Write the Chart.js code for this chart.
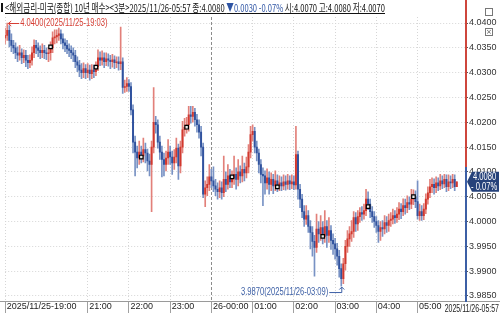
<!DOCTYPE html>
<html><head><meta charset="utf-8">
<script src="https://cdn.jsdelivr.net/npm/chart.js@4.4.0/dist/chart.umd.min.js"></script>
<style>
html,body{margin:0;padding:0;background:#fff;}
#wrap{position:relative;width:500px;height:314px;overflow:hidden;background:#fff;}
#c{position:absolute;left:0;top:0;}
#hdr{position:absolute;left:5px;top:0px;white-space:nowrap;font-family:"Noto Sans CJK KR",sans-serif;font-size:11px;line-height:15px;color:#111;text-decoration:underline;transform-origin:0 0;}
#hdr .dn{color:#2f55a4;}
#icon{position:absolute;left:1px;top:3px;width:2px;height:9px;background:#111;}
#btns{position:absolute;left:485px;top:2px;}
#btns div{display:inline-block;width:6px;height:6px;border:1px solid #777;margin-right:1px;font-size:7px;line-height:6px;text-align:center;color:#555;font-family:"DejaVu Sans",sans-serif;}
</style></head>
<body><div id="wrap"><canvas id="c" width="500" height="314"></canvas>
<div id="icon"></div>
<div id="hdr"><span>&lt;해외금리-미국(종합) 10년 매수&gt;&lt;3분&gt;2025/11/26-05:57 종:4.0080 </span><span class="dn">▼0.0030 -0.07%</span><span> 시:4.0070 고:4.0080 저:4.0070</span></div>
<div id="btns"><div></div><div>×</div></div>
</div>
<script>
// ---- data (3-minute bars, 2025/11/25 19:00 .. 2025/11/26 05:57) ----
const startHour = 19;
const barMinutes = 3;
const opens = [
4.0370,4.0375,4.0385,4.0365,4.0355,4.0350,4.0340,4.0335,4.0340,4.0330,
4.0335,4.0325,4.0320,4.0325,4.0340,4.0355,4.0350,4.0345,4.0340,4.0345,
4.0340,4.0338,4.0340,4.0350,4.0370,4.0372,4.0375,4.0378,4.0368,4.0360,
4.0355,4.0348,4.0345,4.0340,4.0335,4.0322,4.0315,4.0305,4.0300,4.0308,
4.0300,4.0305,4.0298,4.0305,4.0302,4.0312,4.0330,4.0325,4.0330,4.0322,
4.0328,4.0325,4.0322,4.0326,4.0320,4.0322,4.0318,4.0322,4.0270,4.0272,
4.0278,4.0272,4.0225,4.0160,4.0140,4.0128,4.0140,4.0132,4.0145,4.0138,
4.0122,4.0115,4.0150,4.0200,4.0195,4.0160,4.0140,4.0125,4.0115,4.0128,
4.0140,4.0130,4.0118,4.0130,4.0148,4.0112,4.0150,4.0185,4.0190,4.0195,
4.0215,4.0212,4.0220,4.0205,4.0195,4.0180,4.0150,4.0055,4.0068,4.0075,
4.0090,4.0082,4.0072,4.0065,4.0060,4.0068,4.0058,4.0085,4.0075,4.0092,
4.0080,4.0088,4.0095,4.0085,4.0100,4.0092,4.0105,4.0098,4.0110,4.0140,
4.0175,4.0182,4.0150,4.0138,4.0115,4.0095,4.0092,4.0078,4.0088,4.0075,
4.0085,4.0072,4.0082,4.0072,4.0078,4.0072,4.0080,4.0075,4.0082,4.0076,
4.0080,4.0074,4.0135,4.0065,4.0045,4.0020,4.0005,4.0012,3.9990,3.9978,
3.9960,3.9948,3.9985,3.9975,3.9988,3.9970,3.9990,3.9972,3.9982,3.9962,
3.9955,3.9945,3.9930,3.9905,3.9885,3.9915,3.9950,3.9965,3.9975,3.9980,
4.0008,3.9995,4.0010,4.0018,4.0015,4.0022,4.0045,4.0035,4.0020,4.0010,
4.0000,3.9992,3.9980,3.9988,3.9985,3.9998,3.9992,4.0002,4.0005,4.0012,
4.0008,4.0015,4.0025,4.0020,4.0032,4.0028,4.0038,4.0035,4.0045,4.0050,
4.0040,4.0012,4.0020,4.0012,4.0025,4.0045,4.0058,4.0070,4.0075,4.0068,
4.0078,4.0072,4.0082,4.0076,4.0085,4.0070,4.0080,4.0078,4.0085,4.0070];
const highs = [
4.0390,4.0400,4.0395,4.0378,4.0365,4.0360,4.0352,4.0355,4.0348,4.0346,
4.0345,4.0335,4.0336,4.0352,4.0366,4.0365,4.0360,4.0354,4.0358,4.0355,
4.0350,4.0350,4.0362,4.0382,4.0386,4.0386,4.0390,4.0386,4.0378,4.0368,
4.0365,4.0358,4.0354,4.0350,4.0345,4.0332,4.0325,4.0318,4.0320,4.0316,
4.0318,4.0315,4.0316,4.0315,4.0322,4.0346,4.0342,4.0344,4.0340,4.0340,
4.0338,4.0335,4.0337,4.0334,4.0332,4.0332,4.0392,4.0330,4.0285,4.0290,
4.0286,4.0280,4.0235,4.0172,4.0152,4.0162,4.0152,4.0168,4.0158,4.0146,
4.0136,4.0162,4.0270,4.0212,4.0205,4.0172,4.0152,4.0138,4.0142,4.0165,
4.0152,4.0142,4.0145,4.0168,4.0156,4.0162,4.0202,4.0208,4.0210,4.0232,
4.0232,4.0232,4.0228,4.0216,4.0205,4.0192,4.0158,4.0082,4.0090,4.0115,
4.0105,4.0110,4.0085,4.0078,4.0082,4.0080,4.0132,4.0100,4.0115,4.0105,
4.0102,4.0132,4.0108,4.0125,4.0112,4.0132,4.0118,4.0130,4.0155,4.0192,
4.0195,4.0190,4.0162,4.0146,4.0125,4.0108,4.0102,4.0106,4.0100,4.0098,
4.0095,4.0102,4.0094,4.0092,4.0090,4.0094,4.0092,4.0095,4.0092,4.0094,
4.0092,4.0192,4.0142,4.0075,4.0055,4.0032,4.0032,4.0022,4.0002,3.9990,
3.9972,4.0015,4.0000,4.0012,4.0000,4.0022,4.0002,4.0008,3.9992,3.9975,
3.9966,3.9956,3.9942,3.9915,3.9926,3.9962,3.9982,3.9990,4.0002,4.0020,
4.0018,4.0022,4.0028,4.0030,4.0035,4.0065,4.0060,4.0045,4.0030,4.0020,
4.0010,4.0002,4.0000,4.0002,4.0012,4.0010,4.0015,4.0018,4.0025,4.0022,
4.0028,4.0038,4.0036,4.0046,4.0045,4.0052,4.0050,4.0065,4.0064,4.0062,
4.0082,4.0035,4.0032,4.0036,4.0056,4.0070,4.0085,4.0088,4.0086,4.0090,
4.0088,4.0095,4.0092,4.0095,4.0094,4.0094,4.0092,4.0095,4.0094,4.0080];
const lows = [
4.0358,4.0365,4.0352,4.0342,4.0338,4.0328,4.0322,4.0325,4.0318,4.0320,
4.0312,4.0308,4.0310,4.0315,4.0330,4.0338,4.0332,4.0328,4.0330,4.0328,
4.0326,4.0322,4.0325,4.0340,4.0358,4.0360,4.0365,4.0358,4.0348,4.0342,
4.0338,4.0332,4.0328,4.0322,4.0310,4.0302,4.0292,4.0288,4.0290,4.0288,
4.0290,4.0285,4.0288,4.0290,4.0294,4.0304,4.0314,4.0315,4.0310,4.0314,
4.0313,4.0308,4.0311,4.0308,4.0310,4.0305,4.0306,4.0258,4.0260,4.0262,
4.0262,4.0215,4.0138,4.0092,4.0108,4.0115,4.0118,4.0120,4.0118,4.0102,
4.0092,4.0020,4.0138,4.0178,4.0148,4.0125,4.0090,4.0092,4.0102,4.0115,
4.0115,4.0095,4.0105,4.0118,4.0085,4.0098,4.0138,4.0172,4.0178,4.0182,
4.0198,4.0200,4.0192,4.0180,4.0168,4.0132,4.0048,4.0030,4.0052,4.0062,
4.0068,4.0060,4.0052,4.0045,4.0048,4.0045,4.0050,4.0060,4.0065,4.0068,
4.0068,4.0075,4.0065,4.0072,4.0078,4.0080,4.0082,4.0088,4.0098,4.0128,
4.0162,4.0138,4.0122,4.0098,4.0078,4.0032,4.0055,4.0065,4.0055,4.0062,
4.0056,4.0062,4.0060,4.0062,4.0062,4.0064,4.0063,4.0065,4.0064,4.0066,
4.0064,4.0065,4.0045,4.0028,4.0008,3.9990,3.9994,3.9978,3.9945,3.9930,
3.9890,3.9938,3.9958,3.9962,3.9955,3.9958,3.9948,3.9958,3.9944,3.9934,
3.9924,3.9912,3.9888,3.9870,3.9875,3.9902,3.9938,3.9950,3.9960,3.9968,
3.9980,3.9982,3.9998,4.0002,4.0005,4.0012,4.0024,4.0008,3.9998,3.9988,
3.9978,3.9958,3.9962,3.9970,3.9975,3.9978,3.9980,3.9990,3.9995,3.9996,
3.9998,4.0004,4.0006,4.0012,4.0015,4.0018,4.0024,4.0026,4.0034,4.0028,
4.0005,4.0002,4.0002,4.0004,4.0016,4.0035,4.0048,4.0058,4.0055,4.0058,
4.0062,4.0064,4.0066,4.0068,4.0060,4.0062,4.0066,4.0068,4.0062,4.0070];
const closes = [
4.0375,4.0385,4.0365,4.0355,4.0350,4.0340,4.0335,4.0340,4.0330,4.0335,
4.0325,4.0320,4.0325,4.0340,4.0355,4.0350,4.0345,4.0340,4.0345,4.0340,
4.0338,4.0340,4.0350,4.0370,4.0372,4.0375,4.0378,4.0368,4.0360,4.0355,
4.0348,4.0345,4.0340,4.0335,4.0322,4.0315,4.0305,4.0300,4.0308,4.0300,
4.0305,4.0298,4.0305,4.0302,4.0312,4.0330,4.0325,4.0330,4.0322,4.0328,
4.0325,4.0322,4.0326,4.0320,4.0322,4.0318,4.0322,4.0270,4.0272,4.0278,
4.0272,4.0225,4.0160,4.0140,4.0128,4.0140,4.0132,4.0145,4.0138,4.0122,
4.0115,4.0150,4.0200,4.0195,4.0160,4.0140,4.0125,4.0115,4.0128,4.0140,
4.0130,4.0118,4.0130,4.0148,4.0112,4.0150,4.0185,4.0190,4.0195,4.0215,
4.0212,4.0220,4.0205,4.0195,4.0180,4.0150,4.0055,4.0068,4.0075,4.0090,
4.0082,4.0072,4.0065,4.0060,4.0068,4.0058,4.0085,4.0075,4.0092,4.0080,
4.0088,4.0095,4.0085,4.0100,4.0092,4.0105,4.0098,4.0110,4.0140,4.0175,
4.0182,4.0150,4.0138,4.0115,4.0095,4.0092,4.0078,4.0088,4.0075,4.0085,
4.0072,4.0082,4.0072,4.0078,4.0072,4.0080,4.0075,4.0082,4.0076,4.0080,
4.0074,4.0135,4.0065,4.0045,4.0020,4.0005,4.0012,3.9990,3.9978,3.9960,
3.9948,3.9985,3.9975,3.9988,3.9970,3.9990,3.9972,3.9982,3.9962,3.9955,
3.9945,3.9930,3.9905,3.9885,3.9915,3.9950,3.9965,3.9975,3.9980,4.0008,
3.9995,4.0010,4.0018,4.0015,4.0022,4.0045,4.0035,4.0020,4.0010,4.0000,
3.9992,3.9980,3.9988,3.9985,3.9998,3.9992,4.0002,4.0005,4.0012,4.0008,
4.0015,4.0025,4.0020,4.0032,4.0028,4.0038,4.0035,4.0045,4.0050,4.0040,
4.0012,4.0020,4.0012,4.0025,4.0045,4.0058,4.0070,4.0075,4.0068,4.0078,
4.0072,4.0082,4.0076,4.0085,4.0070,4.0080,4.0078,4.0085,4.0070,4.0080];
const markerIdx = [22, 44, 66, 88, 110, 132, 154, 176, 198];
const markerPrice = [4.0352, 4.0311, 4.0130, 4.0190, 4.0090, 4.0070, 3.9970, 4.0030, 4.0050];
const xTickIdx = [0, 40, 60, 80, 100, 120, 140, 160, 180, 200];
const xTickText = ['2025/11/25-19:00','21:00','22:00','23:00','26-00:00','01:00','02:00','03:00','04:00','05:00'];
const yTicks = [3.985,3.990,3.995,4.000,4.005,4.010,4.015,4.020,4.025,4.030,4.035,4.040];
const prevClose = 4.0110;
const lastPrice = 4.0080, lastPct = '- 0.07%';
const lastTimeText = '2025/11/26-05:57';
const highNote = '4.0400(2025/11/25-19:03)', highIdx = 1, highVal = 4.0400;
const lowNote = '3.9870(2025/11/26-03:09)', lowIdx = 163, lowVal = 3.9870;

// ---- build ----
const nSlots = 224; // extra empty slots leave room before the price axis
const labels = [];
for (let i = 0; i < nSlots; i++) {
  const m = startHour * 60 + i * barMinutes;
  const h = Math.floor(m / 60) % 24, mm = m % 60;
  labels.push(String(h).padStart(2,'0') + ':' + String(mm).padStart(2,'0'));
}
const UP = 'rgb(210,56,46)', DN = 'rgb(48,82,158)';
const UPW = 'rgb(226,128,122)', DNW = 'rgb(120,146,196)';
const isUp = closes.map((c,i) => c >= opens[i]);
const bodyColors = isUp.map(u => u ? UP : DN);
const wickColors = isUp.map(u => u ? UPW : DNW);
const wickData = highs.map((h,i) => [lows[i], h]);
const bodyData = closes.map((c,i) => [Math.min(c, opens[i]), Math.max(c, opens[i])]);
const markerData = closes.map(() => null);
markerIdx.forEach((k,j) => { markerData[k] = markerPrice[j]; });

const FONT = '"Liberation Sans",Arial,sans-serif';

function narrowText(ctx, txt, x, y, k, align) {
  ctx.save();
  ctx.translate(x, y);
  ctx.scale(k, 1);
  ctx.textAlign = align;
  ctx.fillText(txt, 0, 0);
  ctx.restore();
}

const overlay = {
  id: 'overlay',
  afterDraw(chart) {
    const ctx = chart.ctx, xs = chart.scales.x, ys = chart.scales.y, ca = chart.chartArea;
    ctx.save();
    // bottom axis line
    ctx.strokeStyle = '#9a9a9a'; ctx.lineWidth = 1;
    ctx.beginPath(); ctx.moveTo(0, ca.bottom + 0.5); ctx.lineTo(500, ca.bottom + 0.5); ctx.stroke();
    // right price axis line (red above prev close, blue below)
    const ax = ca.right + 1;
    const ySplit = ys.getPixelForValue(prevClose);
    ctx.lineWidth = 2;
    ctx.strokeStyle = 'rgb(206,70,60)';
    ctx.beginPath(); ctx.moveTo(ax, 0); ctx.lineTo(ax, ySplit); ctx.stroke();
    ctx.strokeStyle = 'rgb(60,95,165)';
    ctx.beginPath(); ctx.moveTo(ax, ySplit); ctx.lineTo(ax, ca.bottom + 1); ctx.stroke();
    // last price box
    const yp = ys.getPixelForValue(lastPrice);
    ctx.fillStyle = 'rgb(38,66,122)';
    ctx.beginPath();
    ctx.moveTo(ax + 1, yp);
    ctx.lineTo(ax + 6, yp - 10);
    ctx.lineTo(499, yp - 10);
    ctx.lineTo(499, yp + 10);
    ctx.lineTo(ax + 6, yp + 10);
    ctx.closePath(); ctx.fill();
    ctx.fillStyle = '#fff';
    ctx.font = '10px ' + FONT;
    ctx.textBaseline = 'middle';
    narrowText(ctx, lastPrice.toFixed(4), ax + 7, yp - 4.5, 0.76, 'left');
    narrowText(ctx, lastPct, ax + 5, yp + 5, 0.76, 'left');
    // high annotation
    const hx = xs.getPixelForValue(highIdx), hy = ys.getPixelForValue(highVal);
    ctx.strokeStyle = 'rgb(214,62,52)'; ctx.lineWidth = 1;
    ctx.beginPath(); ctx.moveTo(hx + 1, hy + 0.5); ctx.lineTo(hx + 12, hy + 0.5); ctx.stroke();
    ctx.beginPath(); ctx.moveTo(hx + 4, hy - 2); ctx.lineTo(hx + 1, hy + 0.5); ctx.lineTo(hx + 4, hy + 3); ctx.stroke();
    ctx.fillStyle = 'rgb(214,62,52)';
    ctx.font = '10px ' + FONT;
    narrowText(ctx, highNote, hx + 13, hy + 0.5, 0.76, 'left');
    // low annotation
    const lx = xs.getPixelForValue(lowIdx), ly = ys.getPixelForValue(lowVal);
    ctx.strokeStyle = 'rgb(60,95,165)';
    ctx.beginPath(); ctx.moveTo(lx - 12, ly + 6.5); ctx.lineTo(lx + 0.5, ly + 6.5); ctx.lineTo(lx + 0.5, ly + 1); ctx.stroke();
    ctx.beginPath(); ctx.moveTo(lx - 2, ly + 3.5); ctx.lineTo(lx + 0.5, ly + 1); ctx.lineTo(lx + 3, ly + 3.5); ctx.stroke();
    ctx.fillStyle = 'rgb(60,95,165)';
    narrowText(ctx, lowNote, lx - 13, ly + 6.5, 0.76, 'right');
    // last time label
    ctx.fillStyle = '#222'; ctx.textBaseline = 'top';
    narrowText(ctx, lastTimeText, 499, ca.bottom + 3, 0.7, 'right');
    ctx.restore();
  }
};

new Chart(document.getElementById('c'), {
  type: 'bar',
  data: {
    labels: labels,
    datasets: [
      { type: 'line', data: markerData, showLine: false, pointStyle: 'rect', pointRadius: 2.5,
        pointBackgroundColor: '#e8e8e8', pointBorderColor: '#000', pointBorderWidth: 1.2, order: 0 },
      { data: bodyData, backgroundColor: bodyColors, barThickness: 1.3, minBarLength: 1, grouped: false, order: 1 },
      { data: wickData, backgroundColor: wickColors, barThickness: 1, grouped: false, order: 2 }
    ]
  },
  options: {
    responsive: false, animation: false,
    layout: { padding: { top: 17, left: 0, right: 0, bottom: 0 } },
    plugins: { legend: { display: false }, tooltip: { enabled: false } },
    scales: {
      x: {
        type: 'category', offset: false,
        afterBuildTicks: (s) => { s.ticks = xTickIdx.map(v => ({ value: v })); },
        afterFit: (s) => { s.height = 13; },
        ticks: {
          autoSkip: false, maxRotation: 0, align: 'start', labelOffset: 1.5, padding: -12,
          color: '#222', font: { family: FONT, size: 9 },
          callback: (v, i) => xTickText[i]
        },
        grid: {
          offset: false,
          drawOnChartArea: true, drawTicks: true, tickLength: 12,
          color: (c) => (c.tick && c.tick.value === 100) ? '#8c8c8c' : '#d6d6d6',
          tickColor: '#a0a0a0'
        },
        border: { display: false, dash: (c) => (c.tick && c.tick.value === 100) ? [3, 2] : [1, 2] }
      },
      y: {
        position: 'right', min: 3.98399, max: 4.04121,
        afterBuildTicks: (s) => { s.ticks = yTicks.map(v => ({ value: v })); },
        afterFit: (s) => { s.width = 35; },
        ticks: { color: '#333', font: { family: FONT, size: 9 }, padding: 1,
          callback: (v) => Number(v).toFixed(4) },
        grid: { color: '#d6d6d6', tickLength: 3, tickColor: '#555' },
        border: { display: false, dash: [1, 2] }
      }
    }
  },
  plugins: [overlay]
});

// fit header line to the reference width
const hdr = document.getElementById('hdr');
const w = hdr.getBoundingClientRect().width;
hdr.style.transform = 'scaleX(' + (380 / w) + ')';
</script>
</body></html>
